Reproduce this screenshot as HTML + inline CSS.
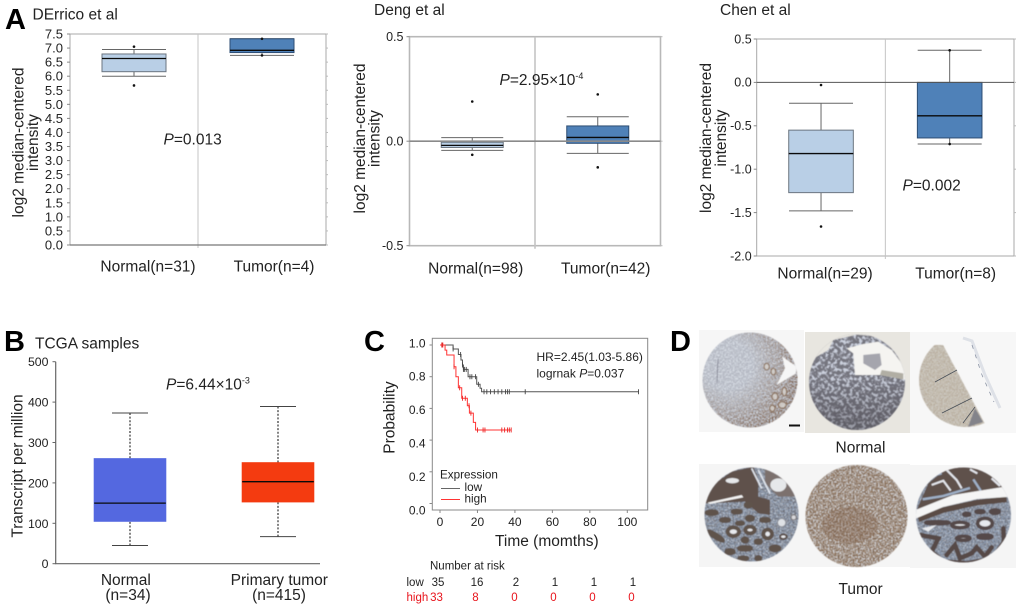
<!DOCTYPE html>
<html lang="en">
<head>
<meta charset="utf-8">
<title>Expression figure panels</title>
<style>
html,body{margin:0;padding:0;background:#fff;}
svg{display:block;font-family:"Liberation Sans",sans-serif;fill:#222;}
text{font-size:15.5px;}
.tick{font-size:12px;}
.letter{font-size:29px;font-weight:bold;fill:#000;}
</style>
</head>
<body>
<svg id="figure" width="1020" height="608" viewBox="0 0 1020 608">
<defs>
<filter id="noise-light" x="0" y="0" width="1" height="1" color-interpolation-filters="sRGB"><feTurbulence type="fractalNoise" baseFrequency=".6" numOctaves="2" seed="4"/><feColorMatrix values="0 0 0 0 .88 0 0 0 0 .9 0 0 0 0 .93 3.2 0 0 0 -1.25"/></filter>
<filter id="noise-brown" x="0" y="0" width="1" height="1" color-interpolation-filters="sRGB"><feTurbulence type="fractalNoise" baseFrequency=".65" numOctaves="2" seed="9"/><feColorMatrix values="0 0 0 0 .45 0 0 0 0 .31 0 0 0 0 .2 3.2 0 0 0 -1.2"/></filter>
<filter id="noise-dark" x="0" y="0" width="1" height="1" color-interpolation-filters="sRGB"><feTurbulence type="fractalNoise" baseFrequency=".55" numOctaves="2" seed="15"/><feColorMatrix values="0 0 0 0 .3 0 0 0 0 .25 0 0 0 0 .23 3.2 0 0 0 -1.25"/></filter>
<filter id="noise-cobble" x="0" y="0" width="1" height="1" color-interpolation-filters="sRGB"><feTurbulence type="fractalNoise" baseFrequency=".32" numOctaves="2" seed="21"/><feColorMatrix values="0 0 0 0 .8 0 0 0 0 .82 0 0 0 0 .87 5 0 0 0 -2.3"/></filter>
<filter id="soft" x="-5%" y="-5%" width="110%" height="110%"><feGaussianBlur stdDeviation=".5"/></filter>
<radialGradient id="edge-fade" gradientUnits="userSpaceOnUse" cx="728" cy="365" r="70"><stop offset=".35" stop-color="#000"/><stop offset="1" stop-color="#fff"/></radialGradient>
<mask id="edge-mask" maskUnits="userSpaceOnUse" x="699" y="330" width="105" height="102"><rect x="699" y="330" width="105" height="102" fill="url(#edge-fade)"/></mask>
<linearGradient id="lower-dark" x1="0" y1="0" x2="0" y2="1"><stop offset=".45" stop-color="#3e3a40" stop-opacity="0"/><stop offset=".85" stop-color="#3e3a40" stop-opacity=".35"/></linearGradient>
<clipPath id="clip-n1"><circle cx="750" cy="380" r="47.5"/></clipPath>
<clipPath id="clip-n2"><circle cx="857" cy="382" r="48"/></clipPath>
<clipPath id="clip-n3"><path d="M943 345 L985 424 L965 431 L925 431 L912 380 L925 345 Z"/></clipPath>
<clipPath id="clip-n3-disc"><circle cx="966" cy="380" r="47"/></clipPath>
<clipPath id="clip-t1"><circle cx="751.5" cy="514.5" r="47"/></clipPath>
<clipPath id="clip-t2"><circle cx="856.5" cy="516" r="51"/></clipPath>
<clipPath id="clip-t3"><circle cx="963.5" cy="515" r="47.5"/></clipPath>
</defs>

<rect width="1020" height="608" fill="#fff"/>

<g id="derrico-panel"></g>
<g id="deng-panel"></g>
<g id="chen-panel"></g>
<g id="tcga-panel"></g>
<g id="survival-panel"></g>

<text class="letter" x="5" y="29">A</text>
<text class="letter" x="4" y="351">B</text>
<text class="letter" x="364" y="351">C</text>
<text class="letter" x="670" y="351">D</text>

<text x="32.5" y="19.5">DErrico et al</text>
<text x="374" y="15">Deng et al</text>
<text x="720" y="15">Chen et al</text>
<text x="35" y="348.5">TCGA samples</text>

<text transform="translate(23.5 142.5) rotate(-90)" text-anchor="middle">log2 median-centered</text>
<text transform="translate(38 142.5) rotate(-90)" text-anchor="middle">intensity</text>
<text transform="translate(365 138.5) rotate(-90)" text-anchor="middle">log2 median-centered</text>
<text transform="translate(379.5 138.5) rotate(-90)" text-anchor="middle">intensity</text>
<text transform="translate(711 138) rotate(-90)" text-anchor="middle">log2 median-centered</text>
<text transform="translate(726 138) rotate(-90)" text-anchor="middle">intensity</text>
<text transform="translate(22.5 466) rotate(-90)" text-anchor="middle">Transcript per million</text>

<text x="163.5" y="144.5"><tspan font-style="italic">P</tspan>=0.013</text>
<text x="499.5" y="85"><tspan font-style="italic">P</tspan>=2.95×10<tspan font-size="9" dy="-6">-4</tspan></text>
<text x="902.5" y="190.5"><tspan font-style="italic">P</tspan>=0.002</text>
<text x="166" y="389.5"><tspan font-style="italic">P</tspan>=6.44×10<tspan font-size="9" dy="-6">-3</tspan></text>

<text transform="translate(394.5 417.5) rotate(-90)" text-anchor="middle">Probability</text>
<text x="495" y="546">Time (momths)</text>
<text x="536.5" y="361" style="font-size:12px">HR=2.45(1.03-5.86)</text>
<text x="536.5" y="377.5" style="font-size:12px">logrnak <tspan font-style="italic">P</tspan>=0.037</text>
<text x="440" y="478.5" style="font-size:11.7px">Expression</text>
<line x1="441" x2="460" y1="488.5" y2="488.5" stroke="#666"/>
<text x="464.5" y="491" style="font-size:11.7px">low</text>
<line x1="441" x2="460" y1="499.5" y2="499.5" stroke="#f33"/>
<text x="464.5" y="502.5" style="font-size:11.7px">high</text>
<text x="430" y="569.5" style="font-size:11.5px">Number at risk</text>
<text x="406.5" y="586" style="font-size:11.5px">low</text>
<text x="406.5" y="601" style="font-size:11.5px;fill:#e8141c">high</text>

<g>
  <g>
    <rect x="699" y="330" width="105" height="102" fill="#f6f6f6"/>
    <g filter="url(#soft)">
    <g clip-path="url(#clip-n1)">
      <rect x="699" y="330" width="105" height="102" fill="#b4b8c2"/>
      <rect x="699" y="330" width="105" height="102" filter="url(#noise-light)" opacity=".8"/>
      <rect x="699" y="330" width="105" height="102" filter="url(#noise-brown)" mask="url(#edge-mask)" opacity=".9"/>
      <g transform="translate(695 325) scale(.3333)" fill="#d8d4cf" stroke="#8a6e57" stroke-width="4" opacity=".8">
        <ellipse cx="262" cy="240" rx="12" ry="10"/><ellipse cx="240" cy="215" rx="9" ry="11"/><ellipse cx="232" cy="250" rx="8" ry="9"/><ellipse cx="268" cy="200" rx="7" ry="13"/><ellipse cx="215" cy="125" rx="8" ry="10"/><ellipse cx="235" cy="140" rx="7" ry="10"/>
      </g>
      <polygon transform="translate(695 325) scale(.3333)" points="262,95 305,125 302,146 245,180 270,130" fill="#f6f6f6"/>
      <line x1="718" y1="359" x2="717" y2="383" stroke="#667" stroke-width=".6"/>
    </g>
    </g>
    <rect x="789" y="424.5" width="11" height="2" fill="#111"/>
  </g>
  <g>
    <rect x="805" y="332" width="105" height="101" fill="#e8e6e0"/>
    <g filter="url(#soft)">
    <g clip-path="url(#clip-n2)">
      <rect x="805" y="332" width="105" height="101" fill="#74747e"/>
      <rect x="805" y="332" width="105" height="101" filter="url(#noise-cobble)"/>
      <rect x="805" y="332" width="105" height="101" fill="url(#lower-dark)"/>
      <g transform="translate(690 320) scale(.3333)">
        <polygon points="495,165 490,100 470,85 520,72 565,65 605,90 650,150 650,180 570,165" fill="#f5f4f1"/>
        <polygon points="520,105 570,100 575,135 555,150 520,130" fill="#a5a5ad"/>
        <polygon points="575,150 640,160 640,178 570,165" fill="#b1aea4"/>
        <polygon points="350,36 660,36 660,70 565,50 500,44 430,60 415,90 380,110 350,150" fill="#e8e6e0"/>
      </g>
    </g>
    </g>
  </g>
  <g>
    <rect x="910" y="332" width="106" height="101" fill="#f7f7f7"/>
    <g filter="url(#soft)">
    <g clip-path="url(#clip-n3)"><g clip-path="url(#clip-n3-disc)">
      <rect x="915" y="340" width="75" height="92" fill="#c9c3b6"/>
      <rect x="915" y="340" width="75" height="92" filter="url(#noise-light)" opacity=".35"/>
      <rect x="915" y="340" width="75" height="92" filter="url(#noise-brown)" opacity=".22"/>
      <polygon points="975,408 983,422 968,427" fill="#83838a"/>
    </g></g>
    </g>
    <g stroke="#4a5058" stroke-width=".8" fill="none">
      <line x1="935" y1="382" x2="957" y2="370"/><line x1="942" y1="413" x2="972" y2="398"/><line x1="963" y1="423" x2="975" y2="407"/>
    </g>
    <polyline points="963,338 972,341 985,375 1000,408" fill="none" stroke="#d3d7df" stroke-width="3" opacity=".7"/>
    <polyline points="972,345 982,375 994,402" fill="none" stroke="#8b94a5" stroke-width=".8" stroke-dasharray="4 6"/>
  </g>
  <g>
    <rect x="699" y="464" width="105" height="103" fill="#f5f5f5"/>
    <g filter="url(#soft)">
    <g clip-path="url(#clip-t1)">
      <rect x="699" y="464" width="105" height="103" fill="#8593a8"/>
      <rect x="699" y="464" width="105" height="103" filter="url(#noise-light)" opacity=".6"/>
      <rect x="699" y="464" width="105" height="103" filter="url(#noise-dark)" opacity=".45"/>
      <g transform="translate(695 460) scale(.3333)">
        <polygon points="30,110 60,70 110,35 175,20 190,60 190,110 225,120 225,165 190,160 150,125 30,130" fill="#5f514c"/>
        <polygon points="210,25 290,60 300,110 250,110 210,70" fill="#7b716e"/>
        <ellipse cx="250" cy="75" rx="24" ry="20" fill="#e6e8ea"/>
        <ellipse cx="112" cy="62" rx="20" ry="8" fill="#e6e8ea"/>
        <polygon points="38,128 140,105 145,112 45,132" fill="#f5f5f5"/>
        <path d="M190 30 L225 100 M170 25 L200 85" stroke="#dfe4ec" stroke-width="5" fill="none"/>
        <g fill="#e8eaee" stroke="#5f524c" stroke-width="12">
          <ellipse cx="115" cy="215" rx="17" ry="13"/><ellipse cx="165" cy="210" rx="14" ry="10"/><ellipse cx="218" cy="222" rx="13" ry="13"/>
          <ellipse cx="105" cy="275" rx="11" ry="5"/><ellipse cx="150" cy="265" rx="18" ry="4"/><ellipse cx="240" cy="265" rx="13" ry="6"/>
          <ellipse cx="145" cy="295" rx="12" ry="3"/><ellipse cx="190" cy="295" rx="6" ry="4"/><ellipse cx="125" cy="155" rx="12" ry="3"/>
          <ellipse cx="165" cy="175" rx="9" ry="5"/><ellipse cx="210" cy="180" rx="12" ry="3"/><ellipse cx="160" cy="135" rx="8" ry="5"/>
          <ellipse cx="50" cy="158" rx="15" ry="4"/><ellipse cx="90" cy="180" rx="12" ry="3"/><ellipse cx="135" cy="190" rx="9" ry="2"/>
          <ellipse cx="62" cy="228" rx="26" ry="4" transform="rotate(32 62 228)"/><ellipse cx="150" cy="240" rx="7" ry="5"/><ellipse cx="190" cy="245" rx="8" ry="4"/>
        </g>
        <ellipse cx="260" cy="188" rx="13" ry="13" fill="#dfe2e6" stroke="#8b8f99" stroke-width="4"/>
        <ellipse cx="265" cy="230" rx="10" ry="7" fill="#e8eaee" stroke="#5a4e4a" stroke-width="6"/>
        <ellipse cx="296" cy="172" rx="8" ry="8" fill="#d9d9dc" stroke="#7c7a7e" stroke-width="4"/>
      </g>
    </g>
    </g>
  </g>
  <g>
    <rect x="804" y="464" width="106" height="103" fill="#f5f5f5"/>
    <g filter="url(#soft)">
    <g clip-path="url(#clip-t2)">
      <rect x="804" y="464" width="106" height="103" fill="#93785f"/>
      <rect x="804" y="464" width="106" height="103" filter="url(#noise-dark)" opacity=".35"/>
      <rect x="804" y="464" width="106" height="103" filter="url(#noise-light)" opacity=".85"/>
      <ellipse cx="850" cy="525" rx="28" ry="18" fill="#7c5a42" opacity=".3"/>
    </g>
    </g>
  </g>
  <g>
    <rect x="910" y="465" width="106" height="103" fill="#f5f5f5"/>
    <g filter="url(#soft)">
    <g clip-path="url(#clip-t3)">
      <rect x="910" y="465" width="106" height="103" fill="#8593a8"/>
      <rect x="910" y="465" width="106" height="103" filter="url(#noise-light)" opacity=".55"/>
      <rect x="910" y="465" width="106" height="103" filter="url(#noise-dark)" opacity=".4"/>
      <g transform="translate(860 460) scale(.3333)">
        <polygon points="170,150 205,70 260,25 340,15 400,40 435,85 280,105" fill="#5f514c"/>
        <g fill="none" stroke="#e6e8ee" stroke-width="6">
          <path d="M260 30 L290 60 L305 85"/><path d="M215 75 L250 62 L272 92"/><path d="M330 28 L352 40"/><path d="M395 55 L420 78"/>
        </g>
        <g fill="none" stroke="#9fb0c8" stroke-width="7">
          <path d="M340 58 L362 92"/><path d="M188 118 L250 108 L330 84"/><path d="M225 45 L245 40"/>
        </g>
        <path d="M175 178 L250 150 L350 128 L440 118" fill="none" stroke="#5a4c44" stroke-width="17"/>
        <g fill="#e8eaee" stroke="#55484a" stroke-width="11">
          <ellipse cx="300" cy="195" rx="25" ry="8"/><ellipse cx="375" cy="190" rx="22" ry="15"/><ellipse cx="310" cy="235" rx="20" ry="6"/>
          <ellipse cx="375" cy="230" rx="21" ry="5"/><ellipse cx="405" cy="155" rx="13" ry="5"/><ellipse cx="360" cy="155" rx="12" ry="3"/>
          <ellipse cx="320" cy="163" rx="9" ry="3"/><ellipse cx="232" cy="188" rx="35" ry="3"/>
        </g>
        <g fill="none" stroke="#574a46" stroke-width="14" stroke-linecap="round">
          <path d="M180 225 L235 235 L215 275 L255 310"/>
          <path d="M260 285 L285 255 L300 295 L335 280 L350 262 L375 290 L395 262"/>
          <path d="M430 205 L432 245 L408 280"/>
          <path d="M265 305 L320 310 L375 300"/>
        </g>
        <polygon points="185,205 230,195 205,215" fill="#e8eaee"/>
      </g>
      <polygon points="905,512 918,509 953,495 1003,487 1020,485 1020,497 1007,497 977,499 943,507 917,518 905,522" fill="#f5f5f5"/>
    </g>
    </g>
  </g>
  <text x="835.5" y="452.5">Normal</text>
  <text x="838.5" y="594">Tumor</text>
</g>

<script>
/* D'Errico box plot data: [lower whisker, Q1, median, Q3, upper whisker] */
const derricoCategories = ['Normal(n=31)', 'Tumor(n=4)'];
const derricoTicks = ['0.0','0.5','1.0','1.5','2.0','2.5','3.0','3.5','4.0','4.5','5.0','5.5','6.0','6.5','7.0','7.5'];
const derricoNormal = [6.0, 6.16, 6.63, 6.79, 6.95];
const derricoTumor = [6.74, 6.84, 6.92, 7.33, 7.33];
const derricoNormalOutliers = [7.05, 5.67];
const derricoTumorOutliers = [7.33, 6.74];

/* Deng box plot data */
const dengCategories = ['Normal(n=98)', 'Tumor(n=42)'];
const dengTicks = ['-0.5','0.0','0.5'];
const dengNormal = [-0.044, -0.03, -0.02, -0.005, 0.017];
const dengTumor = [-0.058, -0.01, 0.018, 0.073, 0.117];
const dengNormalOutliers = [0.19, -0.065];
const dengTumorOutliers = [0.224, -0.125];

/* Chen box plot data */
const chenCategories = ['Normal(n=29)', 'Tumor(n=8)'];
const chenTicks = ['-2.0','-1.5','-1.0','-0.5','0.0','0.5'];
const chenNormal = [-1.48, -1.27, -0.82, -0.55, -0.24];
const chenTumor = [-0.71, -0.64, -0.385, 0, 0.37];
const chenNormalOutliers = [-0.03, -1.66];
const chenTumorOutliers = [0.37, -0.71];

/* TCGA box plot data */
const tcgaTicks = ['0','100','200','300','400','500'];
const tcgaNormal = [45, 105, 150, 260, 373];
const tcgaTumor = [67, 153, 203, 250, 389];
const tcgaCategoryLine1 = ['Normal', 'Primary tumor'];
const tcgaCategoryLine2 = ['(n=34)', '(n=415)'];

/* Survival data */
const survivalXTicks = [0, 20, 40, 60, 80, 100];
const survivalYTicks = ['0.0','0.2','0.4','0.6','0.8','1.0'];
const lowTimes = [0, 7, 9.8, 11.2, 12, 12.5, 15, 19.6, 21.4, 22.2, 106];
const lowSurvival = [1, 0.975, 0.94, 0.905, 0.874, 0.846, 0.80, 0.752, 0.727, 0.705, 0.705];
const lowCensored = [1, 7, 11, 12, 12.5, 13, 14, 16, 17, 19, 20.5, 23.5, 25, 27, 29, 31, 33, 35, 36, 37, 45.5, 106];
const highTimes = [0, 2.7, 3.6, 7.5, 8.5, 9.8, 11.6, 14.6, 15.7, 17.8, 19, 38];
const highSurvival = [1, 0.968, 0.937, 0.863, 0.80, 0.73, 0.664, 0.617, 0.57, 0.512, 0.464, 0.464];
const highCensored = [1, 1.5, 7.5, 10.5, 12, 13.5, 15.5, 16.5, 20, 23, 24, 33, 34.5, 36, 37, 38];
const riskLow = [35, 16, 2, 1, 1, 1];
const riskHigh = [33, 8, 0, 0, 0, 0];

const root = document.getElementById('figure');
const NS = root.namespaceURI;

function shape(parent, tag, attrs, content) {
  const el = document.createElementNS(NS, tag);
  for (const key in attrs) el.setAttribute(key, attrs[key]);
  if (content !== undefined) el.textContent = content;
  parent.appendChild(el);
  return el;
}
function linear(d0, d1, r0, r1) {
  return v => r0 + (v - d0) * (r1 - r0) / (d1 - d0);
}

function drawBox(parent, cx, halfWidth, y, stats, outliers, style) {
  const box = shape(parent, 'g', {});
  
  
  const whiskerAttrs = {stroke: style.whisker, 'stroke-width': style.whiskerWidth, 'stroke-dasharray': style.dash};
  const whiskerLow = shape(box, 'line', Object.assign({x1: cx, x2: cx, y1: y(stats[0]), y2: y(stats[1])}, whiskerAttrs));
  
  
  const whiskerHigh = shape(box, 'line', Object.assign({x1: cx, x2: cx, y1: y(stats[4]), y2: y(stats[3])}, whiskerAttrs));
  
  
  const capLow = shape(box, 'line', {x1: cx - style.cap, x2: cx + style.cap, y1: y(stats[0]), y2: y(stats[0]), stroke: style.capColor, 'stroke-width': 1});
  
  
  const capHigh = shape(box, 'line', {x1: cx - style.cap, x2: cx + style.cap, y1: y(stats[4]), y2: y(stats[4]), stroke: style.capColor, 'stroke-width': 1});
  
  
  const rect = shape(box, 'rect', {x: cx - halfWidth, width: halfWidth * 2, y: y(stats[3]), height: y(stats[1]) - y(stats[3]), fill: style.fill, stroke: style.edge, 'stroke-width': style.edgeWidth});
  
  
  const median = shape(box, 'line', {x1: cx - halfWidth, x2: cx + halfWidth, y1: y(stats[2]), y2: y(stats[2]), stroke: '#0a0a0a', 'stroke-width': 1.3});
  
  
  outliers.forEach(v => {
    const dot = shape(box, 'circle', {cx: cx, cy: y(v), r: 1.3, fill: '#111'});
    
    
  });
}

function drawOncomine(parent, frame, domain, tickLabels, categories, labelOffsets, sets) {
  const y = linear(domain[0], domain[1], frame.bottom, frame.top);
  const mid = (frame.left + frame.right) / 2;
  const band = (frame.right - frame.left) / 2;
  const plotFrame = shape(parent, 'rect', {x: frame.left, y: frame.top, width: frame.right - frame.left, height: frame.bottom - frame.top, fill: 'none', stroke: frame.color, 'stroke-width': frame.width});
  
  
  const divider = shape(parent, 'line', {x1: mid, x2: mid, y1: frame.top, y2: frame.bottom + 3, stroke: '#c4c4c4', 'stroke-width': frame.width});
  
  
  tickLabels.forEach(label => {
    const v = parseFloat(label);
    const tick = shape(parent, 'line', {x1: frame.left - 3, x2: frame.left, y1: y(v), y2: y(v), stroke: '#888'});
    
    
    const rightTick = shape(parent, 'line', {x1: frame.right, x2: frame.right + 2, y1: y(v), y2: y(v), stroke: '#bbb'});
    
    
    const text = shape(parent, 'text', {class: 'tick', x: frame.left - frame.labelGap, y: y(v) + frame.labelDrop, 'text-anchor': 'end', style: 'font-size:' + frame.tickSize + 'px'}, label);
    
    
  });
  sets.forEach((set, i) => {
    drawBox(parent, frame.left + band * (i + 0.5), frame.halfBox, y, set.stats, set.outliers, set.style);
  });
  const baseline = shape(parent, 'line', {x1: frame.left, x2: frame.right, y1: y(frame.baseValue), y2: y(frame.baseValue), stroke: frame.baseColor, 'stroke-width': frame.baseWidth});
  
  
  categories.forEach((label, i) => {
    const text = shape(parent, 'text', {x: frame.left + band * (i + 0.5) + labelOffsets[i], y: frame.categoryY, 'text-anchor': 'middle'}, label);
    
    
  });
}

const lightStyle = {fill: '#b9cfe6', edge: '#6b7580', edgeWidth: 1, whisker: '#666', whiskerWidth: 1, capColor: '#666', cap: 32, dash: 'none'};
const darkStyle = {fill: '#4f81b8', edge: '#2d4d73', edgeWidth: 1, whisker: '#666', whiskerWidth: 1, capColor: '#666', cap: 32, dash: 'none'};

drawOncomine(document.getElementById('derrico-panel'),
  {left: 70, right: 326, top: 34, bottom: 245, color: '#a8a8a8', width: 1, labelGap: 7, labelDrop: 4.5, tickSize: 13, halfBox: 32, baseValue: 0, baseColor: '#777', baseWidth: 1.2, categoryY: 271.5},
  [0, 7.5], derricoTicks, derricoCategories, [14, 12],
  [{stats: derricoNormal, outliers: derricoNormalOutliers, style: lightStyle},
   {stats: derricoTumor, outliers: derricoTumorOutliers, style: darkStyle}]);

drawOncomine(document.getElementById('deng-panel'),
  {left: 409.5, right: 660.5, top: 36.7, bottom: 245.7, color: '#b8b8b8', width: 1.6, labelGap: 6, labelDrop: 4.5, tickSize: 12.5, halfBox: 31, baseValue: 0, baseColor: '#8a8a8a', baseWidth: 1.6, categoryY: 273.5},
  [-0.5, 0.5], dengTicks, dengCategories, [3.5, 8],
  [{stats: dengNormal, outliers: dengNormalOutliers, style: Object.assign({}, lightStyle, {cap: 31})},
   {stats: dengTumor, outliers: dengTumorOutliers, style: Object.assign({}, darkStyle, {cap: 31})}]);

drawOncomine(document.getElementById('chen-panel'),
  {left: 756.7, right: 1014, top: 39, bottom: 256, color: '#a8a8a8', width: 1, labelGap: 5, labelDrop: 4.3, tickSize: 12.5, halfBox: 32.3, baseValue: 0, baseColor: '#555', baseWidth: 1, categoryY: 278.5},
  [-2, 0.5], chenTicks, chenCategories, [4, 6],
  [{stats: chenNormal, outliers: chenNormalOutliers, style: lightStyle},
   {stats: chenTumor, outliers: chenTumorOutliers, style: darkStyle}]);

(function drawTcga() {
  const panel = document.getElementById('tcga-panel');
  const y = linear(0, 500, 563.7, 361.7);
  const band = x => 56 + 148 * (x + 0.5);
  const yAxis = shape(panel, 'line', {x1: 55.7, x2: 55.7, y1: 361.7, y2: 564, stroke: '#666', 'stroke-width': 1.2});
  
  
  const xAxis = shape(panel, 'line', {x1: 55, x2: 320, y1: 563.7, y2: 563.7, stroke: '#666', 'stroke-width': 1.2});
  
  
  tcgaTicks.forEach(label => {
    const v = Number(label);
    const tick = shape(panel, 'line', {x1: 52.5, x2: 55.7, y1: y(v), y2: y(v), stroke: '#666'});
    
    
    const text = shape(panel, 'text', {x: 48.5, y: y(v) + 4.5, 'text-anchor': 'end', style: 'font-size:12.3px'}, label);
    
    
  });
  const blue = {fill: '#5468e0', edge: '#5468e0', edgeWidth: 1, whisker: '#333', whiskerWidth: 1.2, capColor: '#444', cap: 18, dash: '2 1.6'};
  const red = {fill: '#f43b10', edge: '#f43b10', edgeWidth: 1, whisker: '#333', whiskerWidth: 1.2, capColor: '#444', cap: 18, dash: '2 1.6'};
  drawBox(panel, band(0), 35.8, y, tcgaNormal, [], blue);
  drawBox(panel, band(1), 35.8, y, tcgaTumor, [], red);
  tcgaCategoryLine1.forEach((label, i) => {
    const text = shape(panel, 'text', {x: band(i) + (i ? 1.3 : -4.2), y: 585, 'text-anchor': 'middle'}, label);
    
    
  });
  tcgaCategoryLine2.forEach((label, i) => {
    const text = shape(panel, 'text', {x: band(i) + (i ? 1 : -2), y: 600, 'text-anchor': 'middle'}, label);
    
    
  });
})();

(function drawSurvival() {
  const panel = document.getElementById('survival-panel');
  const x = linear(0, 100, 440, 627.3);
  const y = linear(0, 1, 503.5, 345);
  const labelY = linear(0, 1, 510, 343);
  const frame = shape(panel, 'rect', {x: 432.3, y: 338.3, width: 215.4, height: 171.7, fill: 'none', stroke: '#888', 'stroke-width': 1});
  
  
  survivalXTicks.forEach(v => {
    const tick = shape(panel, 'line', {x1: x(v), x2: x(v), y1: 510, y2: 513, stroke: '#888'});
    
    
    const text = shape(panel, 'text', {x: x(v), y: 526, 'text-anchor': 'middle', style: 'font-size:12px'}, String(v));
    
    
  });
  survivalYTicks.forEach(label => {
    const v = parseFloat(label);
    const tick = shape(panel, 'line', {x1: 429.5, x2: 432.3, y1: y(v), y2: y(v), stroke: '#888'});
    
    
    const text = shape(panel, 'text', {x: 425.5, y: labelY(v) + 4.3, 'text-anchor': 'end', style: 'font-size:12px'}, label);
    
    
  });
  function stepPath(times, values) {
    let d = 'M' + x(times[0]) + ' ' + y(values[0]);
    for (let i = 1; i < times.length; i++) {
      d += ' H' + x(times[i]) + ' V' + y(values[i]);
    }
    return d;
  }
  function valueAt(times, values, t) {
    let result = values[0];
    for (let i = 0; i < times.length; i++) if (times[i] <= t) result = values[i];
    return result;
  }
  const lowLine = shape(panel, 'path', {d: stepPath(lowTimes, lowSurvival), fill: 'none', stroke: '#555', 'stroke-width': 1});
  
  
  lowCensored.forEach(t => {
    const p = valueAt(lowTimes, lowSurvival, t);
    const mark = shape(panel, 'line', {x1: x(t), x2: x(t), y1: y(p) - 2.5, y2: y(p) + 2.5, stroke: '#444', 'stroke-width': 0.9});
    
    
  });
  const highLine = shape(panel, 'path', {d: stepPath(highTimes, highSurvival), fill: 'none', stroke: '#f33', 'stroke-width': 1});
  
  
  highCensored.forEach(t => {
    const p = valueAt(highTimes, highSurvival, t);
    const mark = shape(panel, 'line', {x1: x(t), x2: x(t), y1: y(p) - 2.5, y2: y(p) + 2.5, stroke: '#e22', 'stroke-width': 0.9});
    
    
  });
  const riskX = i => 438 + 39 * i;
  riskLow.forEach((v, i) => {
    const text = shape(panel, 'text', {x: riskX(i), y: 586, 'text-anchor': 'middle', style: 'font-size:11.5px'}, String(v));
    
    
  });
  riskHigh.forEach((v, i) => {
    const text = shape(panel, 'text', {x: riskX(i) - 1.5, y: 601, 'text-anchor': 'middle', style: 'font-size:11.5px;fill:#e8141c'}, String(v));
    
    
  });
})();
</script>
</svg>
</body>
</html>
